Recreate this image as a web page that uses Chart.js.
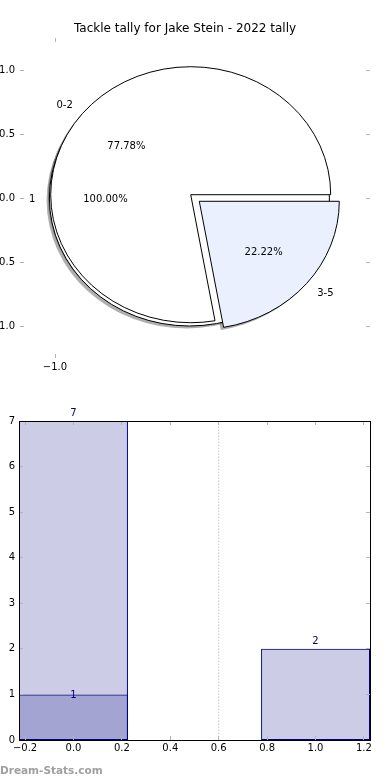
<!DOCTYPE html>
<html>
<head>
<meta charset="utf-8">
<script src="https://cdn.jsdelivr.net/npm/chart.js@4.4.0/dist/chart.umd.min.js"></script>
<style>
    html, body { margin: 0; padding: 0; background: #fff; }
    #wrap { position: relative; width: 390px; height: 780px; overflow: hidden; }
    #wrap canvas { position: absolute; left: 0; }
    #pie { top: 0; }
    #bars { top: 390px; }
    #mark { position: absolute; left: 0; top: 763px; font: bold 10.5px "DejaVu Sans"; line-height: 14px; color: #a0a0a0; }
</style>
</head>
<body>
<div id="wrap">
    <canvas id="pie" width="390" height="390"></canvas>
    <canvas id="bars" width="390" height="390"></canvas>
    <div id="mark">Dream-Stats.com</div>
</div>
<script>
"use strict";

// Data
var TITLE = 'Tackle tally for Jake Stein - 2022 tally';
var PIE_LABELS = ['0-2', '3-5'];
var PIE_VALUES = [7, 2];
var SUB_LABELS = ['1'];
var SUB_VALUES = [1];
var PIE_X_TICKS = [-1.0];
var PIE_Y_TICKS = [-1.0, -0.5, 0.0, 0.5, 1.0];

var BAR_X = [0, 1];
var BAR_TOTALS = [7, 2];
var OVERLAP_X = [0];
var OVERLAP_VALUES = [1];
var MARKER_X = 0.6;
var BAR_X_TICKS = [-0.2, 0.0, 0.2, 0.4, 0.6, 0.8, 1.0, 1.2];
var BAR_Y_TICKS = [0, 1, 2, 3, 4, 5, 6, 7];

Chart.defaults.font.family = '"DejaVu Sans", sans-serif';
Chart.defaults.font.size = 10;
Chart.defaults.color = '#000';

var NAVY = '#000080';
var EXPLODE = 0.04;

function fmt(v, digits) {
    return Number(v).toFixed(digits).replace('-', '\u2212');
}

// inward tick marks + optional frame, like the matplotlib classic look
var innerTicks = {
    id: 'innerTicks',
    afterDatasetsDraw: function (chart, args, opts) {
        var ctx = chart.ctx, a = chart.chartArea, len = 4;
        var xs = chart.scales.x, ys = chart.scales.y;
        ctx.save();
        ctx.strokeStyle = '#b4b4b4';
        ctx.lineWidth = 1;
        ctx.beginPath();
        xs.ticks.forEach(function (t) {
            var p = Math.floor(xs.getPixelForValue(t.value)) + 0.5;
            ctx.moveTo(p, a.bottom); ctx.lineTo(p, a.bottom - len);
            ctx.moveTo(p, a.top); ctx.lineTo(p, a.top + len);
        });
        ys.ticks.forEach(function (t) {
            var p = Math.floor(ys.getPixelForValue(t.value)) + 0.5;
            ctx.moveTo(a.left, p); ctx.lineTo(a.left + len, p);
            ctx.moveTo(a.right, p); ctx.lineTo(a.right - len, p);
        });
        ctx.stroke();
        if (opts.frame) {
            ctx.strokeStyle = '#000';
            var l = Math.floor(a.left) + 0.5, t = Math.floor(a.top) + 0.5;
            var r = Math.floor(a.right) + 0.5, b = Math.floor(a.bottom) + 0.5;
            ctx.strokeRect(l, t, r - l, b - t);
        }
        ctx.restore();
    }
};

// pie wedges drawn through the linear x/y scales (elliptical like the original axes)
var pieDrawer = {
    id: 'pieDrawer',
    afterDatasetsDraw: function (chart) {
        var ctx = chart.ctx, xs = chart.scales.x, ys = chart.scales.y;
        var rx = xs.getPixelForValue(1) - xs.getPixelForValue(0);
        var ry = ys.getPixelForValue(0) - ys.getPixelForValue(1);
        var D = Math.PI / 180;

        function build(values, labels, colors) {
            var total = values.reduce(function (s, v) { return s + v; }, 0);
            var a = 0;
            return values.map(function (v, i) {
                var span = v / total * 360;
                var mid = (a + span / 2) * D;
                var w = {
                    t1: a, t2: a + span, mid: mid, label: labels[i], color: colors[i],
                    pct: v / total * 100,
                    ex: EXPLODE * Math.cos(mid), ey: EXPLODE * Math.sin(mid)
                };
                a += span;
                return w;
            });
        }

        function path(w, ox, oy) {
            var cx = xs.getPixelForValue(w.ex + ox), cy = ys.getPixelForValue(w.ey + oy);
            ctx.beginPath();
            if (w.t2 - w.t1 >= 359.999) {
                ctx.ellipse(cx, cy, rx, ry, 0, 0, Math.PI * 2);
            } else {
                ctx.moveTo(cx, cy);
                ctx.ellipse(cx, cy, rx, ry, 0, -w.t1 * D, -w.t2 * D, true);
                ctx.closePath();
            }
        }

        function shade(hex) {
            var n = parseInt(hex.slice(1), 16);
            var r = Math.round(((n >> 16) & 255) * 0.3), g = Math.round(((n >> 8) & 255) * 0.3), b = Math.round((n & 255) * 0.3);
            return 'rgba(' + r + ',' + g + ',' + b + ',0.45)';
        }

        var sub = build(SUB_VALUES, SUB_LABELS, ['#ffffff']);
        var main = build(PIE_VALUES, PIE_LABELS, ['#ffffff', '#eaf0fd']);
        var all = sub.concat(main);

        ctx.save();
        ctx.lineWidth = 1;
        all.forEach(function (w) {
            path(w, -0.02, -0.02);
            ctx.fillStyle = shade(w.color);
            ctx.fill();
        });
        all.forEach(function (w) {
            path(w, 0, 0);
            ctx.fillStyle = w.color;
            ctx.strokeStyle = '#000';
            ctx.fill();
            ctx.stroke();
        });

        ctx.fillStyle = '#000';
        ctx.font = '10px "DejaVu Sans"';
        ctx.textBaseline = 'middle';
        all.forEach(function (w) {
            var c = Math.cos(w.mid), s = Math.sin(w.mid);
            ctx.textAlign = c < 0 ? 'right' : 'left';
            ctx.fillText(w.label, xs.getPixelForValue(w.ex + 1.1 * c), ys.getPixelForValue(w.ey + 1.1 * s) + 1.5);
            ctx.textAlign = 'center';
            ctx.fillText(w.pct.toFixed(2) + '%', xs.getPixelForValue(w.ex + 0.6 * c), ys.getPixelForValue(w.ey + 0.6 * s) + 1.5);
        });
        ctx.restore();
    }
};

// value labels over the bars
var barLabels = {
    id: 'barLabels',
    afterDatasetsDraw: function (chart) {
        var ctx = chart.ctx;
        ctx.save();
        ctx.fillStyle = NAVY;
        ctx.font = '10px "DejaVu Sans"';
        ctx.textAlign = 'center';
        ctx.textBaseline = 'alphabetic';
        chart.getDatasetMeta(0).data.forEach(function (el, i) {
            ctx.fillText(String(BAR_TOTALS[i]), el.x, el.y - 5);
        });
        chart.getDatasetMeta(1).data.forEach(function (el, i) {
            ctx.fillText(String(OVERLAP_VALUES[i]), el.x, el.y + 4);
        });
        ctx.restore();
    }
};

var noGrid = { display: false, drawTicks: false };

var initPie = function () {
    var el = document.getElementById('pie');
    new Chart(el.getContext('2d'), {
        type: 'scatter',
        data: { datasets: [] },
        options: {
            responsive: false,
            animation: false,
            layout: { padding: { left: 0, right: 20, top: 0, bottom: 0 } },
            plugins: {
                legend: { display: false },
                tooltip: { enabled: false },
                title: {
                    display: true,
                    text: TITLE,
                    color: '#000',
                    font: { size: 12, weight: 'normal' },
                    padding: { top: 22, bottom: 1.6 }
                },
                innerTicks: { frame: false }
            },
            scales: {
                x: {
                    type: 'linear', min: -1.25, max: 1.25,
                    grid: noGrid, border: { display: false },
                    afterBuildTicks: function (s) { s.ticks = PIE_X_TICKS.map(function (v) { return { value: v }; }); },
                    afterFit: function (s) { s.height = 32; },
                    ticks: { autoSkip: false, maxRotation: 0, padding: 3, callback: function (v) { return fmt(v, 1); } }
                },
                y: {
                    type: 'linear', min: -1.25, max: 1.25,
                    grid: noGrid, border: { display: false },
                    afterBuildTicks: function (s) { s.ticks = PIE_Y_TICKS.map(function (v) { return { value: v }; }); },
                    afterFit: function (s) { s.width = 20; },
                    ticks: { autoSkip: false, padding: 5, callback: function (v) { return fmt(v, 1); } }
                }
            }
        },
        plugins: [pieDrawer, innerTicks]
    });
};

var initBars = function () {
    var el = document.getElementById('bars');
    var xmin = -0.225, xmax = 1.225;
    new Chart(el.getContext('2d'), {
        type: 'bar',
        data: {
            datasets: [{
                label: 'tally',
                data: BAR_X.map(function (x, i) { return { x: x, y: BAR_TOTALS[i] }; }),
                xAxisID: 'xb',
                backgroundColor: 'rgba(0,0,128,0.2)',
                borderColor: NAVY,
                borderWidth: 1,
                borderSkipped: false,
                grouped: false,
                categoryPercentage: 1,
                barPercentage: 0.45,
                order: 1
            }, {
                label: 'overlap',
                data: OVERLAP_X.map(function (x, i) { return { x: x, y: OVERLAP_VALUES[i] }; }),
                xAxisID: 'xb',
                backgroundColor: 'rgba(0,0,128,0.2)',
                borderColor: NAVY,
                borderWidth: 1,
                borderSkipped: false,
                grouped: false,
                categoryPercentage: 1,
                barPercentage: 0.45,
                order: 0
            }, {
                type: 'line',
                label: 'marker',
                data: [{ x: MARKER_X, y: BAR_Y_TICKS[0] }, { x: MARKER_X, y: BAR_Y_TICKS[BAR_Y_TICKS.length - 1] }],
                xAxisID: 'x',
                borderColor: '#c8c8c8',
                borderWidth: 1,
                borderDash: [1.5, 1.5],
                pointRadius: 0,
                order: 2
            }]
        },
        options: {
            responsive: false,
            animation: false,
            layout: { padding: { left: 0, right: 20, top: 31, bottom: 0 } },
            plugins: {
                legend: { display: false },
                tooltip: { enabled: false },
                innerTicks: { frame: true }
            },
            scales: {
                x: {
                    type: 'linear', min: xmin, max: xmax, offset: false,
                    grid: noGrid, border: { display: false },
                    afterBuildTicks: function (s) { s.ticks = BAR_X_TICKS.map(function (v) { return { value: v }; }); },
                    afterFit: function (s) { s.height = 40; },
                    ticks: { autoSkip: false, maxRotation: 0, padding: 2, callback: function (v) { return fmt(v, 1); } }
                },
                xb: {
                    type: 'linear', min: xmin, max: xmax, offset: false, display: false,
                    afterBuildTicks: function (s) { s.ticks = BAR_X.map(function (v) { return { value: v }; }); }
                },
                y: {
                    type: 'linear', min: 0, max: 7,
                    grid: noGrid, border: { display: false },
                    afterBuildTicks: function (s) { s.ticks = BAR_Y_TICKS.map(function (v) { return { value: v }; }); },
                    afterFit: function (s) { s.width = 19; },
                    ticks: { autoSkip: false, padding: 4, callback: function (v) { return String(v); } }
                }
            }
        },
        plugins: [barLabels, innerTicks]
    });
};

initPie();
initBars();
</script>
</body>
</html>
